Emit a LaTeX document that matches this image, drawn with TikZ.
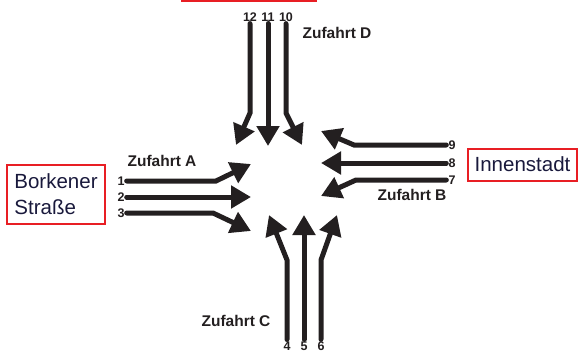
\documentclass[tikz,border=0pt]{standalone}
\usepackage{fontspec}
\setmainfont{Liberation Sans}
\usetikzlibrary{arrows.meta}
\definecolor{lanecol}{RGB}{35,31,32}
\definecolor{boxred}{RGB}{232,30,36}
\definecolor{boxtext}{RGB}{25,25,60}

\begin{document}
\begin{tikzpicture}[x=1pt,y=-1pt,
  lane/.style={line width=5pt,draw=lanecol,line cap=round,-{Triangle[length=20pt,width=22pt]}},
  num/.style={font=\fontsize{12.5}{13}\selectfont\bfseries,text=lanecol,inner sep=2pt},
  zufahrt/.style={font=\fontsize{15.5}{18}\selectfont\bfseries,text=lanecol},
  place/.style={rectangle,draw=boxred,line width=2pt,text=boxtext,font=\fontsize{20.5}{26}\selectfont,align=left}]
\useasboundingbox (0,0) rectangle (579,354);

% street boxes
\node[place,minimum width=134pt,minimum height=40pt,anchor=south] (north) at (249,2) {};
\node[place,minimum width=98pt,minimum height=59pt,inner sep=4pt] (borken) at (56,194.5) {Borkener\\Straße};
\node[place,minimum width=109pt,minimum height=32pt,inner sep=3pt] (city) at (522.5,164.5) {Innenstadt};

% approach labels
\node[zufahrt] (za) at (162,161) {Zufahrt A};
\node[zufahrt] (zb) at (412,195) {Zufahrt B};
\node[zufahrt] (zc) at (236,321) {Zufahrt C};
\node[zufahrt] (zd) at (337,33) {Zufahrt D};

% lane numbers
\node[num] (n1) at (121,181) {1};
\node[num] (n2) at (121,197) {2};
\node[num] (n3) at (121,213) {3};
\node[num] (n4) at (287,346) {4};
\node[num] (n5) at (304,346) {5};
\node[num] (n6) at (321,346) {6};
\node[num] (n7) at (452,180) {7};
\node[num] (n8) at (452,163) {8};
\node[num] (n9) at (452,145) {9};
\node[num] (n10) at (286,17) {10};
\node[num] (n11) at (268,17) {11};
\node[num] (n12) at (250,17) {12};

% arrow tips at the crossing
\coordinate (t1) at (251,164);
\coordinate (t2) at (251,197);
\coordinate (t3) at (251,231);
\coordinate (t4) at (269,215);
\coordinate (t5) at (304,215);
\coordinate (t6) at (337,215);
\coordinate (t7) at (321,196);
\coordinate (t8) at (321,163);
\coordinate (t9) at (321,131);
\coordinate (t10) at (302,145);
\coordinate (t11) at (268,146);
\coordinate (t12) at (236,145);

% Zufahrt A
\draw[lane] (n1) -- (216,181) -- (t1);
\draw[lane] (n2) -- (t2);
\draw[lane] (n3) -- (213,213) -- (t3);
% Zufahrt B
\draw[lane] (n9) -- (354,145) -- (t9);
\draw[lane] (n8) -- (t8);
\draw[lane] (n7) -- (356,180) -- (t7);
% Zufahrt C
\draw[lane] (n4) -- (287,260) -- (t4);
\draw[lane] (n5) -- (t5);
\draw[lane] (n6) -- (321,260) -- (t6);
% Zufahrt D
\draw[lane] (n12) -- (250,113) -- (t12);
\draw[lane] (n11) -- (t11);
\draw[lane] (n10) -- (286,113) -- (t10);
\end{tikzpicture}
\end{document}
